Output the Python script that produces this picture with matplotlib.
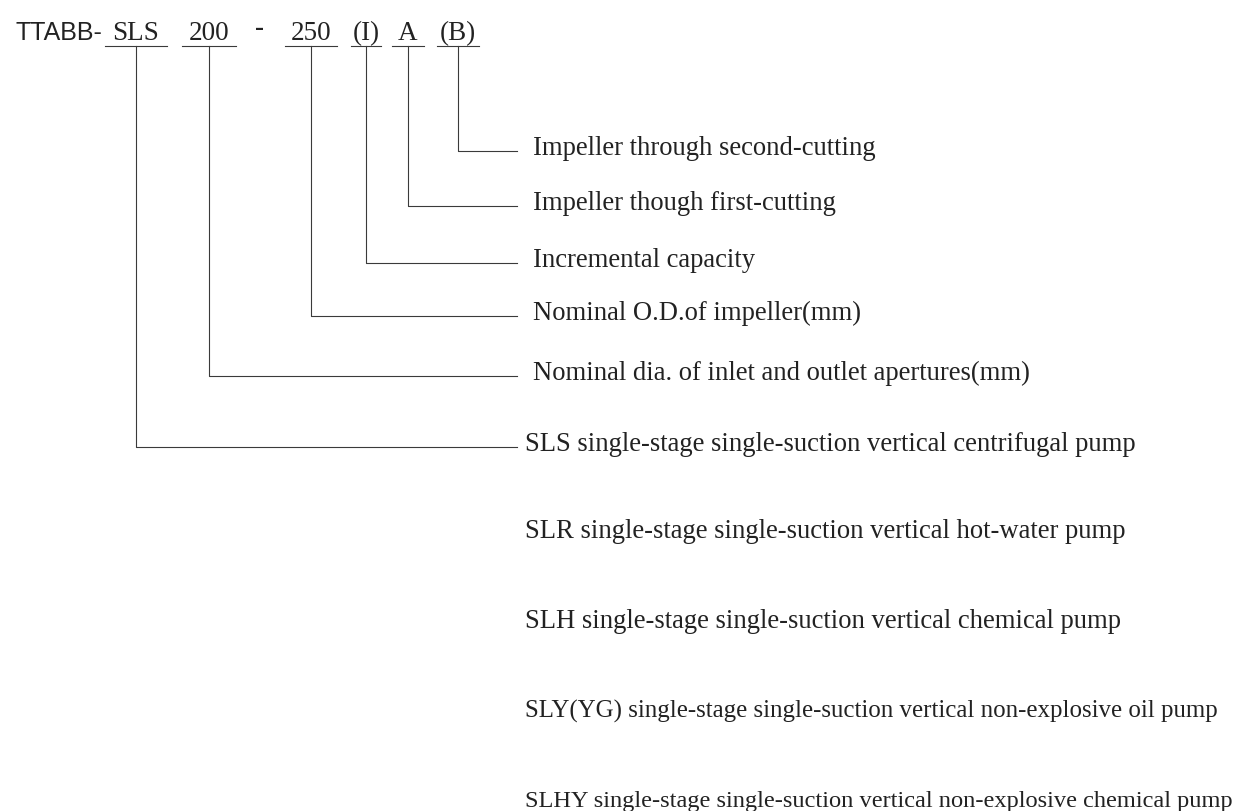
import matplotlib.pyplot as plt

# model code parts in the header and where their underlines sit
codes = ["SLS", "200", "250", "(I)", "A", "(B)"]
code_x = [136, 209, 311, 366, 408, 458]
code_half = [31, 27, 26, 15, 16, 21]

# explanation rows, one per code part (from last part to first)
labels = ["Impeller through second-cutting",
          "Impeller though first-cutting",
          "Incremental capacity",
          "Nominal O.D.of impeller(mm)",
          "Nominal dia. of inlet and outlet apertures(mm)",
          "SLS single-stage single-suction vertical centrifugal pump"]
label_y = [152, 207, 264, 317, 377, 448]
label_x = [533, 533, 533, 533, 533, 525]

# further pump types listed under the first row
extra = ["SLR single-stage single-suction vertical hot-water pump",
         "SLH single-stage single-suction vertical chemical pump",
         "SLY(YG) single-stage single-suction vertical non-explosive oil pump",
         "SLHY single-stage single-suction vertical non-explosive chemical pump"]
extra_y = [538, 628, 718, 807]
# the two long rows are squeezed in the original
extra_fs = [19.2, 19.2, 17.9, 17.6]

W, H = 1245, 812
fig = plt.figure(figsize=(W / 100, H / 100), dpi=100)
ax = fig.add_axes([0, 0, 1, 1])
ax.set_xlim(0, W)
ax.set_ylim(H, 0)
ax.axis("off")

ink = "#222222"
line_c = "#3a3a3a"
serif = "Liberation Serif"
lw = 0.8
under_y = 47
line_end = 517

ax.text(15, 40, "TTABB-", fontsize=18, family="Liberation Sans", color=ink, va="baseline", ha="left")
for c, x, hw in zip(codes, code_x, code_half):
    ax.text(x, 40, c, fontsize=19.5, family=serif, color=ink, va="baseline", ha="center")
    ax.plot([x - hw, x + hw], [under_y, under_y], color=line_c, lw=lw)
ax.text(260, 35, "-", fontsize=19.5, family=serif, color=ink, va="baseline", ha="center", fontweight="bold")

# connectors: last code part goes to the top row
for x, y in zip(code_x[::-1], label_y):
    ax.plot([x, x, line_end], [under_y, y, y], color=line_c, lw=lw)

for txt, y, x in zip(labels, label_y, label_x):
    ax.text(x, y + 3, txt, fontsize=19.2, family=serif, color=ink, va="baseline", ha="left")
for txt, y, fs in zip(extra, extra_y, extra_fs):
    ax.text(525, y, txt, fontsize=fs, family=serif, color=ink, va="baseline", ha="left")

fig.savefig("out.png", dpi=100, facecolor="white")
